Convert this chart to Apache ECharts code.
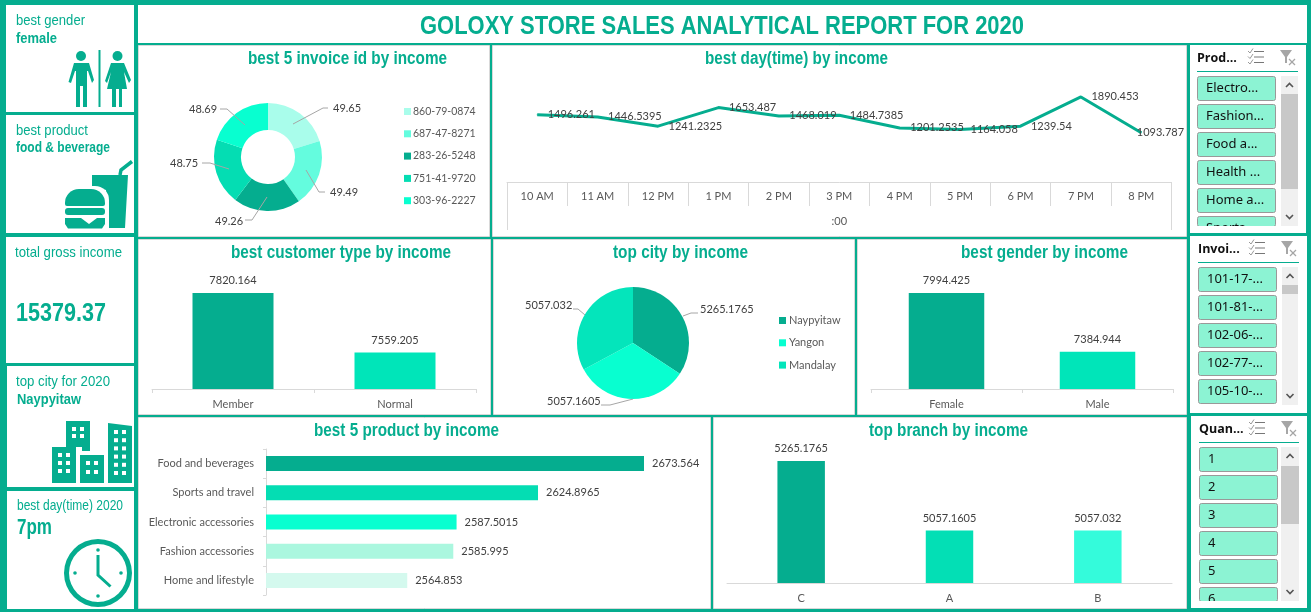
<!DOCTYPE html>
<html><head><meta charset="utf-8">
<style>html,body{margin:0;padding:0;background:#fff}#c{width:1311px;height:612px}</style>
<script src="https://cdn.jsdelivr.net/npm/echarts@6/dist/echarts.min.js"></script>
</head><body><div id="c"></div>
<script>
// ---- data ----
const invoiceIds = ['860-79-0874','687-47-8271','283-26-5248','751-41-9720','303-96-2227'];
const invoiceIncome = [49.65,49.49,49.26,48.75,48.69];
const hours = ['10 AM','11 AM','12 PM','1 PM','2 PM','3 PM','4 PM','5 PM','6 PM','7 PM','8 PM'];
const hourIncome = [1496.261,1446.5395,1241.2325,1653.487,1468.019,1484.7385,1201.2535,1164.058,1239.54,1890.453,1093.787];
const customerTypes = ['Member','Normal'];
const customerIncome = [7820.164,7559.205];
const cities = ['Naypyitaw','Yangon','Mandalay'];
const cityIncome = [5265.1765,5057.1605,5057.032];
const genders = ['Female','Male'];
const genderIncome = [7994.425,7384.944];
const products = ['Food and beverages','Sports and travel','Electronic accessories','Fashion accessories','Home and lifestyle'];
const productIncome = [2673.564,2624.8965,2587.5015,2585.995,2564.853];
const branches = ['C','A','B'];
const branchIncome = [5265.1765,5057.1605,5057.032];
const slicerProduct = ['Electro...','Fashion...','Food a...','Health ...','Home a...','Sports...'];
const slicerInvoice = ['101-17-...','101-81-...','102-06-...','102-77-...','105-10-...'];
const slicerQuantity = ['1','2','3','4','5','6'];

// ---- styles ----
const TEAL='#05AD8F';
const donutColors=['#A9FDEB','#64FCDE','#05AD8F','#04DDB3','#08FFD0'];
const cityColors=['#05AD8F','#08FFD0','#04E5BB'];
const twoColors=['#05AD8F','#00E5B9'];
const productColors=['#05AD8F','#04DDB3','#08FFD0','#ABF7DF','#D4F9EE'];
const branchColors=['#05AD8F','#03DFB5','#34FBDB'];
const SANS='"Liberation Sans",sans-serif';
const LAB='Lato,"Open Sans",sans-serif';
const valText={color:'#404040',fontFamily:LAB,fontSize:11};
const catText={color:'#595959',fontFamily:LAB,fontSize:11};
const axisLn={lineStyle:{color:'#D9D9D9',width:1}};

const g=[];
const rect=(x,y,w,h,fill,extra)=>g.push({type:'rect',silent:true,shape:{x,y,width:w,height:h,r:(extra&&extra.r)||0},style:{fill,stroke:extra&&extra.stroke,lineWidth:extra&&extra.lw}});
const poly=(pts,fill)=>g.push({type:'polygon',silent:true,shape:{points:pts},style:{fill}});
const pline=(pts,stroke,lw,z)=>g.push({type:'polyline',silent:true,z:z||0,shape:{points:pts},style:{stroke,lineWidth:lw,fill:null}});
const circ=(cx,cy,r,fill)=>g.push({type:'circle',silent:true,shape:{cx,cy,r},style:{fill}});
const txt=(s,x,y,font,fill,align)=>g.push({type:'text',silent:true,style:{text:s,x,y,font,fill:fill||TEAL,align:align||'left',verticalAlign:'middle'}});
// text condensed horizontally to span x0..x1 (no condensed font is installed)
const mctx=document.createElement('canvas').getContext('2d');
const fit=(s,x0,x1,y,font)=>{mctx.font=font;const w=mctx.measureText(s).width;
  g.push({type:'text',silent:true,z:5,x:x0,y:y+1,scaleX:(x1-x0)/w,style:{text:s,x:0,y:0,font,fill:TEAL,align:'left',verticalAlign:'middle'}});};

// page frame and panels
rect(0,0,1311,612,TEAL);
[[6,5,128,107],[6,115,128,118],[6,237,128,126],[7,366,127,121],[7,491,127,118],[138,5,1169,38],
 [1190,45,116,188],[1190,236,117,177],[1191,416,116,192]].forEach(p=>rect(p[0],p[1],p[2],p[3],'#fff'));
[[138,45,352,192],[492,45,695,192],[138,239,353,176],[493,239,362,176],[857,239,330,176],[138,417,573,192],[713,417,474,192]]
 .forEach(p=>rect(p[0]+.5,p[1]+.5,p[2]-1,p[3]-1,'#fff',{stroke:'#D9D9D9',lw:1}));

// titles
const tb=s=>'bold '+s+'px '+SANS, tr=s=>s+'px '+SANS;
fit('GOLOXY STORE SALES ANALYTICAL REPORT FOR 2020',420,1024,26,tb(26));
fit('best 5 invoice id by income',248,447,58,tb(18));
fit('best day(time) by income',705,888,58,tb(18));
fit('best customer type by income',231,451,252,tb(18));
fit('top city by income',613,748,252,tb(18));
fit('best gender by income',961,1128,252,tb(18));
fit('best 5 product by income',314,499,430,tb(18));
fit('top branch by income',869,1028,430,tb(18));

// left KPI cards
fit('best gender',16,85,20,tr(15)); fit('female',16,57,38,tb(15));
fit('best product',16,88,130,tr(15)); fit('food & beverage',16,110,147,tb(14));
fit('total gross income',15,122,252,tr(15)); fit('15379.37',16,106,313,tb(26));
fit('top city for 2020',16,110,381,tr(15)); fit('Naypyitaw',17,81,399,tb(15));
fit('best day(time) 2020',17,123,505,tr(15)); fit('7pm',17,52,527,tb(22));

// gender icon
circ(81,56,5,TEAL); circ(117.5,56,5,TEAL); rect(98.5,50,2,57,TEAL);
poly([[74,63],[89,63],[94,80],[92,83],[88,71],[87,71],[87,107],[83,107],[83,86],[80,86],[80,107],[76,107],[76,71],[75,71],[71,83],[68.5,82]],TEAL);
poly([[111,63],[124,63],[131,80],[129,83],[124,72],[127,89],[122,89],[122,107],[119,107],[119,89],[116,89],[116,107],[112,107],[112,89],[107,89],[111,72],[107,83],[105,81]],TEAL);
// food icon
poly([[92,175],[128,175],[125,228],[108,228],[106,190],[92,186]],TEAL);
pline([[120,175],[121,170],[132,161.5]],TEAL,3.5);
rect(62,186,47,46,'#fff',{r:[14,14,0,0]});
rect(65,189,40,17,TEAL,{r:[14,14,2,2]});
rect(65,208,40,7,TEAL,{r:3});
poly([[65,218],[81,218],[89,224],[97,218],[105,218],[105,224],[102,228.5],[68,228.5],[65,224]],TEAL);
// city icon
const win=(x0,y0,cols,rows,dx,dy,s)=>{for(let r=0;r<rows;r++)for(let c=0;c<cols;c++)rect(x0+c*dx,y0+r*dy,s,s,'#fff');};
poly([[66,421],[90,421],[90,451],[82,451],[82,447],[66,447]],TEAL); win(72,427,2,2,8,7,4);
rect(52,447,24,36,TEAL); win(58,453,2,3,8,8,4);
rect(80,455,24,28,TEAL); win(86,461,2,2,8,9,4);
poly([[108,423],[132,426],[132,483],[108,483]],TEAL); win(114,430,2,6,8,8.2,4);
// clock icon
g.push({type:'ring',silent:true,shape:{cx:98,cy:573,r:34,r0:29},style:{fill:TEAL}});
[[98,550],[98,596],[75,573],[121,573]].forEach(p=>circ(p[0],p[1],1.8,TEAL));
pline([[98,555],[98,575],[110.5,586.5]],TEAL,3);

// slicers
function slicer(title,x0,x1,headY,lineY,items,btnX,btnTop,clip,track,thumbY){
  txt(title,x0,headY,'bold 12.5px "Open Sans",sans-serif','#111');
  const ix=x1-50; for(let i=0;i<3;i++){
    rect(ix+6,headY-7+i*5.5,10,1,'#777');
    pline([[ix,headY-7+i*5.5],[ix+2,headY-5+i*5.5],[ix+5,headY-9.5+i*5.5]],'#999',1);
  }
  const fx=x1-18;
  poly([[fx,headY-8],[fx+12,headY-8],[fx+7,headY-1],[fx+7,headY+5],[fx+5,headY+5],[fx+5,headY-1]],'#A6A6A6');
  pline([[fx+9,headY+1],[fx+15,headY+7]],'#A6A6A6',1.2); pline([[fx+15,headY+1],[fx+9,headY+7]],'#A6A6A6',1.2);
  rect(x0,lineY,x1-x0,1,TEAL);
  items.forEach((s,i)=>{
    const y=btnTop+i*28;
    const h=(clip&&y+24>clip[0])?clip[0]-y:24;
    rect(btnX+.5,y+.5,78,h,'#8CF3D3',{stroke:'#999',lw:1,r:2});
    txt(s,btnX+9,y+12.5,'13px "Noto Sans",sans-serif','#111');
  });
  if(clip){ rect(btnX-1,clip[0],82,clip[1],'#fff'); rect(btnX-1,clip[0]+clip[1],82,3,TEAL); }
  rect(track[0],track[1],track[2],track[3],'#F0F0F0');
  rect(track[0],thumbY[0],track[2],thumbY[1]-thumbY[0],'#C8C8C8');
  const cx=track[0]+track[2]/2;
  pline([[cx-3.5,track[1]+11],[cx,track[1]+7.5],[cx+3.5,track[1]+11]],'#555',1.6);
  pline([[cx-3.5,track[1]+track[3]-11],[cx,track[1]+track[3]-7.5],[cx+3.5,track[1]+track[3]-11]],'#555',1.6);
}
slicer('Prod...',1197,1298,58,71,slicerProduct,1197,76,[226,7],[1281,76,17,150],[94,189]);
slicer('Invoi...',1198,1299,249,262,slicerInvoice,1198,267,null,[1282,267,16,138],[285,294]);
slicer('Quan...',1199,1299,429,442,slicerQuantity,1199,447,[601,7],[1281,447,18,154],[466,524]);

// line chart outer separators
pline([[507.5,182],[507.5,230]],'#D9D9D9',1); pline([[1171.5,182],[1171.5,230]],'#D9D9D9',1);

// donut and pie leader lines
[[[293,124],[323,108],[328,108]],[[306,170],[319,192],[325,192]],[[267,197],[252,220],[245,220]],[[229,169],[210,163],[202,163]],[[245,125],[227,109],[220,109]],
 [[683,316],[691,313],[698,313]],[[585,315],[578,309],[573,309]],[[633,399],[610,405],[601,405]]]
 .forEach(l=>pline(l,'#A6A6A6',1,10));

const donutLabelAt=[[333,108],[330,192],[215,221],[170,163],[189,109]];
const cityLabelAt=[[700,309],[547,401],[525,305]];

const lab=p=>String(p.value);
const colored=(vals,cols)=>vals.map((v,i)=>({value:v,itemStyle:{color:cols[i]}}));
function vBar(idx,cats,vals,cols,min,grid,barW,ticks){
  return {
    grid:Object.assign({},grid),
    x:{gridIndex:idx,type:'category',data:cats,axisLine:axisLn,axisTick:{show:ticks,length:4,lineStyle:axisLn.lineStyle},axisLabel:Object.assign({interval:0,margin:ticks?10:10},catText)},
    y:{gridIndex:idx,type:'value',show:false,min,max:Math.max(...vals),splitLine:{show:false}},
    s:{type:'bar',xAxisIndex:idx,yAxisIndex:idx,barWidth:barW,data:colored(vals,cols),label:Object.assign({show:true,position:'top',distance:7,formatter:lab},valText)}
  };
}
const a=vBar(0,customerTypes,customerIncome,twoColors,7400,{left:152,width:324,top:293,height:96},'50%',true);
const b=vBar(1,genders,genderIncome,twoColors,7000,{left:871,width:302,top:293,height:96},'50%',true);
const c=vBar(2,branches,branchIncome,branchColors,4900,{left:727,width:445,top:461,height:122},'32%',false);

const option={
 animation:false,
 graphic:{elements:g},
 legend:[
  {data:invoiceIds,orient:'vertical',left:399,top:101,itemWidth:7,itemHeight:7,itemGap:11.3,icon:'rect',textStyle:{padding:[0,0,0,-3],color:'#595959',fontFamily:LAB,fontSize:10.5},selectedMode:false},
  {data:cities,orient:'vertical',left:774,top:310,itemWidth:7,itemHeight:7,itemGap:11.3,icon:'rect',textStyle:{padding:[0,0,0,-2],color:'#595959',fontFamily:LAB,fontSize:11},selectedMode:false}
 ],
 grid:[a.grid,b.grid,c.grid,{left:266,width:378,top:449,height:146},{left:507,width:664.5,top:92,height:90}],
 xAxis:[a.x,b.x,c.x,
  {gridIndex:3,type:'value',show:false,min:2500,max:Math.max(...productIncome),splitLine:{show:false}},
  {gridIndex:4,type:'category',data:hours,name:':00',nameLocation:'middle',nameGap:34,nameTextStyle:catText,
   axisLine:axisLn,axisTick:{show:true,length:24,lineStyle:axisLn.lineStyle},axisLabel:Object.assign({interval:0,margin:9},catText)}],
 yAxis:[a.y,b.y,c.y,
  {gridIndex:3,type:'category',inverse:true,data:products,axisLine:axisLn,axisTick:{show:true,length:3,lineStyle:axisLn.lineStyle},axisLabel:Object.assign({interval:0,margin:12},catText)},
  {gridIndex:4,type:'value',show:false,min:0,max:2000,splitLine:{show:false}}],
 series:[a.s,b.s,c.s,
  {type:'bar',xAxisIndex:3,yAxisIndex:3,barWidth:15,data:colored(productIncome,productColors),label:Object.assign({show:true,position:'right',distance:8,formatter:lab},valText)},
  {type:'line',xAxisIndex:4,yAxisIndex:4,symbol:'circle',symbolSize:1,showSymbol:true,showAllSymbol:true,lineStyle:{color:TEAL,width:3},itemStyle:{color:TEAL},
   data:hourIncome,
   label:Object.assign({show:true,position:'right',distance:10,formatter:lab},valText),
   labelLayout:p=>p.dataIndex===hourIncome.length-1?{dx:-15}:{},emphasis:{disabled:true}},
  {type:'pie',name:'invoice',center:[268,157],radius:[27,54],startAngle:90,
   data:invoiceIds.map((n,i)=>({name:n,value:invoiceIncome[i],itemStyle:{color:donutColors[i]}})),
   label:Object.assign({show:true,formatter:lab},valText),labelLine:{show:false},
   labelLayout:p=>({x:donutLabelAt[p.dataIndex][0],y:donutLabelAt[p.dataIndex][1],align:'left',verticalAlign:'middle'}),
   emphasis:{disabled:true}},
  {type:'pie',name:'city',center:[633,343],radius:[0,56],startAngle:90,
   data:cities.map((n,i)=>({name:n,value:cityIncome[i],itemStyle:{color:cityColors[i]}})),
   label:Object.assign({show:true,formatter:lab},valText),labelLine:{show:false},
   labelLayout:p=>({x:cityLabelAt[p.dataIndex][0],y:cityLabelAt[p.dataIndex][1],align:'left',verticalAlign:'middle'}),
   emphasis:{disabled:true}}
 ]
};
echarts.init(document.getElementById('c')).setOption(option);
</script></body></html>
